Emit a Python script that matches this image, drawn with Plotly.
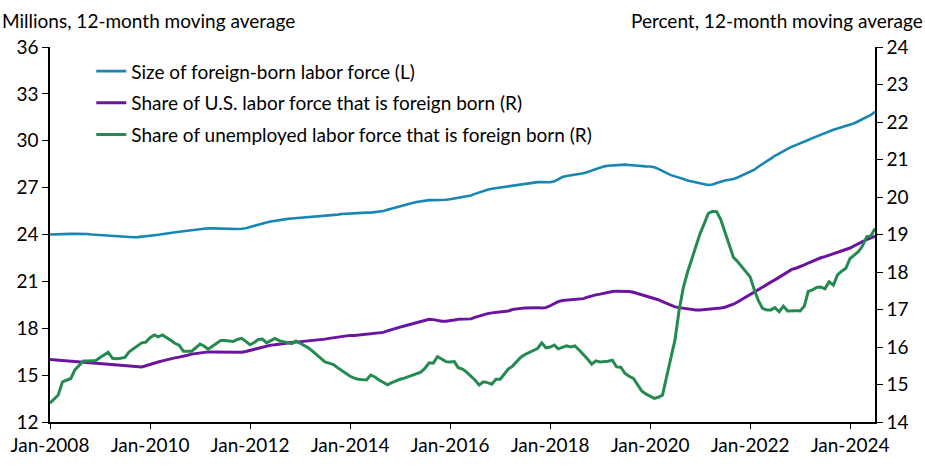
import pandas as pd
import plotly.graph_objects as go

# monthly, Jan 2008 - Jul 2024
months = pd.date_range("2008-01-01", "2024-07-01", freq="MS")

# Size of foreign-born labor force, millions (left axis)
size_fb = [
    24.0, 24.0, 24.0, 24.0, 24.02, 24.04, 24.05, 24.05, 24.04, 24.03, 24.0, 23.98,
    23.96, 23.94, 23.92, 23.9, 23.88, 23.87, 23.86, 23.84, 23.82, 23.83, 23.85, 23.88,
    23.92, 23.95, 23.98, 24.03, 24.06, 24.1, 24.14, 24.18, 24.21, 24.24, 24.28, 24.32,
    24.36, 24.39, 24.4, 24.39, 24.38, 24.37, 24.35, 24.33, 24.33, 24.35, 24.37, 24.4,
    24.48, 24.56, 24.65, 24.71, 24.77, 24.83, 24.88, 24.93, 24.97, 25.0, 25.02, 25.04,
    25.06, 25.08, 25.1, 25.12, 25.14, 25.16, 25.18, 25.2, 25.23, 25.27, 25.31, 25.33,
    25.35, 25.37, 25.38, 25.39, 25.4, 25.4, 25.42, 25.45, 25.5, 25.58, 25.66, 25.74,
    25.82, 25.9, 25.95, 26.02, 26.08, 26.13, 26.18, 26.2, 26.2, 26.2, 26.2, 26.22,
    26.26, 26.3, 26.35, 26.4, 26.42, 26.5, 26.6, 26.7, 26.8, 26.87, 26.93, 26.97,
    27.0, 27.02, 27.06, 27.12, 27.18, 27.21, 27.25, 27.3, 27.34, 27.35, 27.35, 27.34,
    27.34, 27.4, 27.55, 27.68, 27.74, 27.78, 27.84, 27.88, 27.92, 28.0, 28.1, 28.2,
    28.3, 28.36, 28.4, 28.42, 28.44, 28.46, 28.47, 28.45, 28.42, 28.4, 28.38, 28.36,
    28.35, 28.3, 28.2, 28.05, 27.9, 27.8, 27.72, 27.65, 27.55, 27.45, 27.38, 27.33,
    27.28, 27.22, 27.17, 27.2, 27.3, 27.4, 27.46, 27.5, 27.55, 27.65, 27.78, 27.9,
    28.02, 28.15, 28.34, 28.5, 28.68, 28.86, 29.04, 29.2, 29.35, 29.5, 29.62, 29.72,
    29.82, 29.93, 30.05, 30.17, 30.28, 30.38, 30.48, 30.6, 30.7, 30.78, 30.86, 30.94,
    31.02, 31.12, 31.25, 31.38, 31.5, 31.65, 31.85,
]

# Share of U.S. labor force that is foreign born, percent (right axis)
share_lf = [
    15.67, 15.66, 15.65, 15.64, 15.63, 15.62, 15.61, 15.6, 15.6, 15.59, 15.58, 15.57,
    15.56, 15.55, 15.54, 15.53, 15.52, 15.51, 15.5, 15.49, 15.47, 15.46, 15.47, 15.5,
    15.54, 15.57, 15.6, 15.63, 15.66, 15.69, 15.71, 15.73, 15.75, 15.78, 15.81, 15.83,
    15.85, 15.86, 15.87, 15.87, 15.87, 15.86, 15.85, 15.85, 15.85, 15.86, 15.86, 15.88,
    15.91, 15.95, 15.98, 16.01, 16.03, 16.05, 16.06, 16.08, 16.1, 16.11, 16.12, 16.13,
    16.14, 16.15, 16.16, 16.17, 16.19, 16.2, 16.21, 16.23, 16.25, 16.27, 16.29, 16.3,
    16.31, 16.31, 16.32, 16.32, 16.33, 16.34, 16.35, 16.36, 16.39, 16.43, 16.47, 16.5,
    16.53, 16.56, 16.59, 16.63, 16.66, 16.69, 16.72, 16.74, 16.73, 16.71, 16.69, 16.69,
    16.7, 16.72, 16.74, 16.74, 16.73, 16.75, 16.79, 16.83, 16.87, 16.89, 16.91, 16.92,
    16.93, 16.94, 16.96, 17.0, 17.02, 17.03, 17.04, 17.05, 17.05, 17.05, 17.04, 17.05,
    17.1, 17.16, 17.21, 17.24, 17.25, 17.26, 17.27, 17.27, 17.29, 17.33, 17.37, 17.39,
    17.41, 17.44, 17.46, 17.48, 17.49, 17.49, 17.49, 17.48, 17.46, 17.43, 17.39, 17.36,
    17.33, 17.3, 17.26, 17.21, 17.16, 17.11, 17.07, 17.05, 17.03, 17.01, 17.0, 16.99,
    16.99, 17.0, 17.0, 17.01, 17.02, 17.04, 17.06, 17.09, 17.14, 17.2, 17.27, 17.34,
    17.4, 17.46, 17.52, 17.59, 17.66, 17.73, 17.79, 17.86, 17.93, 18.0, 18.07, 18.1,
    18.14, 18.19, 18.24, 18.29, 18.34, 18.38, 18.41, 18.45, 18.48, 18.51, 18.55, 18.59,
    18.64, 18.7, 18.76, 18.81, 18.86, 18.91, 18.96,
]

# Share of unemployed labor force that is foreign born, percent (right axis)
share_unemp = [
    14.5, 14.6, 14.72, 15.07, 15.12, 15.16, 15.39, 15.5, 15.63, 15.63, 15.64, 15.64,
    15.72, 15.8, 15.86, 15.7, 15.69, 15.7, 15.72, 15.87, 15.95, 16.03, 16.11, 16.13,
    16.25, 16.32, 16.27, 16.32, 16.26, 16.18, 16.1, 16.05, 15.89, 15.89, 15.89, 15.98,
    16.08, 16.02, 15.94, 16.02, 16.1, 16.17, 16.17, 16.15, 16.15, 16.2, 16.23, 16.15,
    16.06, 16.12, 16.2, 16.21, 16.11, 16.17, 16.23, 16.17, 16.15, 16.12, 16.09, 16.16,
    16.1, 16.05, 15.98, 15.89, 15.8, 15.7, 15.6, 15.57, 15.53, 15.45, 15.37, 15.28,
    15.22, 15.17, 15.14, 15.13, 15.12, 15.25, 15.2, 15.12, 15.05, 14.99, 15.05, 15.1,
    15.14, 15.17, 15.21, 15.25, 15.28, 15.33, 15.43, 15.58, 15.57, 15.74, 15.68, 15.61,
    15.6, 15.61, 15.45, 15.41, 15.33, 15.23, 15.12, 14.99, 15.07, 15.05, 15.01, 15.14,
    15.14, 15.28, 15.41, 15.49, 15.6, 15.73, 15.8, 15.85, 15.9, 15.96, 16.11, 15.98,
    16.0, 16.05, 15.95, 15.99, 16.03, 16.0, 16.03, 15.92, 15.81, 15.68, 15.54, 15.63,
    15.6, 15.6, 15.62, 15.65, 15.47, 15.46, 15.3, 15.22, 15.16, 15.0, 14.83, 14.75,
    14.68, 14.63, 14.66, 14.72, 15.21, 15.7, 16.19, 17.0, 17.6, 18.0, 18.36, 18.7,
    19.03, 19.3, 19.56, 19.62, 19.61, 19.39, 19.05, 18.7, 18.39, 18.28, 18.14, 18.0,
    17.87, 17.52, 17.25, 17.03, 16.99, 16.99, 17.05, 16.94, 17.09, 16.96, 16.97, 16.97,
    16.96, 17.09, 17.48, 17.52, 17.59, 17.6, 17.55, 17.74, 17.65, 17.92, 18.02, 18.1,
    18.36, 18.45, 18.54, 18.7, 18.94, 18.96, 19.16,
]

FONT = "Lato"

fig = go.Figure()
fig.add_trace(go.Scatter(x=months, y=size_fb, mode="lines", yaxis="y",
                         name="Size of foreign-born labor force (L)", legendgroup="a",
                         line=dict(color="#1886b4", width=2.6)))
fig.add_trace(go.Scatter(x=months, y=share_lf, mode="lines", yaxis="y2",
                         name="Share of U.S. labor force that is foreign born (R)", legendgroup="b",
                         line=dict(color="#6a14a0", width=3)))
fig.add_trace(go.Scatter(x=months, y=share_unemp, mode="lines", yaxis="y2",
                         name="Share of unemployed labor force that is foreign born (R)", legendgroup="c",
                         line=dict(color="#248a50", width=3)))

axis_common = dict(showgrid=False, zeroline=False, showline=True, linecolor="black", linewidth=1.5,
                   ticks="outside", tickcolor="black", ticklen=6, tickwidth=1.3, automargin=False,
                   tickfont=dict(family=FONT, size=19, color="black"))

fig.update_layout(
    width=925, height=466,
    margin=dict(l=50, r=50, t=47, b=44),
    paper_bgcolor="white", plot_bgcolor="white",
    font=dict(family=FONT, size=19, color="black"),
    xaxis=dict(axis_common, range=["2008-01-01", "2024-07-01"], tickformat="%b-%Y",
               dtick="M24", tick0="2008-01-01", ticklen=5),
    yaxis=dict(axis_common, range=[12, 36], dtick=3),
    yaxis2=dict(axis_common, range=[14, 24], dtick=1, overlaying="y", side="right"),
    legend=dict(x=0.05, y=0.986, xanchor="left", yanchor="top", bgcolor="rgba(0,0,0,0)",
                font=dict(family=FONT, size=19, color="black"), tracegroupgap=4),
    showlegend=True,
)

fig.add_annotation(text="Millions, 12-month moving average", xref="paper", yref="paper",
                   x=0, y=1, xshift=-50, yshift=27, xanchor="left", yanchor="middle",
                   showarrow=False, font=dict(family=FONT, size=19, color="black"))
fig.add_annotation(text="Percent, 12-month moving average", xref="paper", yref="paper",
                   x=1, y=1, xshift=50, yshift=27, xanchor="right", yanchor="middle",
                   showarrow=False, font=dict(family=FONT, size=19, color="black"))

# drop the default page margin so the 925x466 figure fills the window
fig.write_html("out.html", config={"displayModeBar": False},
               post_script="document.body.style.margin='0px';")
